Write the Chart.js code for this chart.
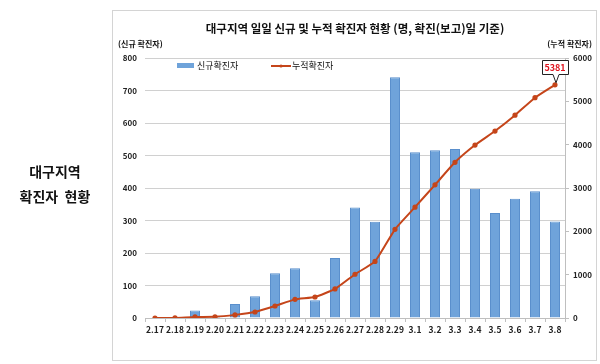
<!DOCTYPE html>
<html><head><meta charset="utf-8">
<script src="https://cdn.jsdelivr.net/npm/chart.js@4.4.1/dist/chart.umd.min.js"></script>
<style>
html,body{margin:0;padding:0;background:#fff;}
#wrap{position:relative;width:600px;height:364px;}
canvas{position:absolute;left:0;top:0;}
.side{position:absolute;left:0;width:110px;text-align:center;font-family:"Noto Sans CJK KR";font-weight:bold;font-size:14px;color:#111;}
</style></head>
<body><div id="wrap">
<canvas id="c" width="600" height="364"></canvas>
<div class="side" style="top:161px;">대구지역</div>
<div class="side" style="top:186px;">확진자&nbsp;&nbsp;현황</div>
</div>
<script>
const categories = ['2.17','2.18','2.19','2.20','2.21','2.22','2.23','2.24','2.25','2.26','2.27','2.28','2.29','3.1','3.2','3.3','3.4','3.5','3.6','3.7','3.8'];
const newCases = [0,1,23,5,43,67,138,153,55,185,340,296,741,510,516,520,398,323,367,390,297];
const cumulative = [0,1,24,29,72,139,277,430,485,670,1010,1306,2047,2557,3073,3593,3991,4314,4681,5084,5381];
const leftTicks = [0,100,200,300,400,500,600,700,800];
const rightTicks = [0,1000,2000,3000,4000,5000,6000];
const titleText = '대구지역 일일 신규 및 누적 확진자 현황 (명, 확진(보고)일 기준)';
const leftUnit = '(신규 확진자)';
const rightUnit = '(누적 확진자)';
const barLabel = '신규확진자';
const lineLabel = '누적확진자';
const lastLabel = '5381';

const FONT = '"Noto Sans CJK KR"';
const lineColor = '#C5451A';
const barColor = '#6FA3DA';

const deco = {
  id:'deco',
  afterDraw(chart){
    const ctx = chart.ctx;
    ctx.save();
    ctx.strokeStyle = '#D4D4D4'; ctx.lineWidth = 1;
    ctx.strokeRect(112.5,10.5,484,350);
    ctx.fillStyle = '#111';
    ctx.font = 'bold 11.5px '+FONT;
    ctx.textAlign='center'; ctx.textBaseline='middle';
    ctx.fillText(titleText, 355, 29);
    ctx.font = 'bold 8px '+FONT;
    ctx.textAlign='left';
    ctx.fillText(leftUnit, 118, 44);
    ctx.textAlign='right';
    ctx.fillText(rightUnit, 592, 44);
    ctx.font = '9px '+FONT;
    ctx.textAlign='left';
    ctx.fillStyle = barColor;
    ctx.fillRect(177,63,17,5);
    ctx.fillStyle='#111';
    ctx.fillText(barLabel, 197, 66);
    ctx.strokeStyle = lineColor; ctx.lineWidth=2;
    ctx.beginPath(); ctx.moveTo(271,66); ctx.lineTo(291,66); ctx.stroke();
    ctx.fillStyle=lineColor;
    ctx.beginPath(); ctx.arc(281,66,1.6,0,Math.PI*2); ctx.fill();
    ctx.fillStyle='#111';
    ctx.fillText(lineLabel, 292, 66);
    const meta = chart.getDatasetMeta(1);
    const p = meta.data[meta.data.length-1];
    const bx = Math.round(p.x-13), by = Math.round(p.y-25), bw = 26, bh = 14;
    ctx.fillStyle='#fff'; ctx.strokeStyle='#222'; ctx.lineWidth=1;
    ctx.beginPath();
    ctx.moveTo(bx+0.5,by+0.5); ctx.lineTo(bx+bw+0.5,by+0.5); ctx.lineTo(bx+bw+0.5,by+bh+0.5);
    ctx.lineTo(p.x+4,by+bh+0.5); ctx.lineTo(p.x+1,p.y-2); ctx.lineTo(p.x-2,by+bh+0.5);
    ctx.lineTo(bx+0.5,by+bh+0.5); ctx.closePath();
    ctx.fill(); ctx.stroke();
    ctx.fillStyle='#E0141E'; ctx.font='bold 9px '+FONT; ctx.textAlign='center';
    ctx.fillText(lastLabel, bx+bw/2, by+bh/2+0.5);
    ctx.restore();
  }
};

new Chart(document.getElementById('c'), {
  data:{
    labels:categories,
    datasets:[
      {type:'bar', label:barLabel, data:newCases, yAxisID:'y', backgroundColor:barColor, borderColor:'#5A8FCC', borderWidth:1, barPercentage:0.5, categoryPercentage:1, order:2},
      {type:'line', label:lineLabel, data:cumulative, yAxisID:'y2', borderColor:lineColor, backgroundColor:lineColor, borderWidth:2, pointRadius:1.6, pointStyle:'circle', tension:0.15, order:1}
    ]
  },
  options:{
    responsive:false, animation:false,
    layout:{padding:{left:110,right:0,top:58,bottom:26}},
    plugins:{legend:{display:false}, tooltip:{enabled:false}},
    scales:{
      x:{
        grid:{display:true, drawOnChartArea:false, drawTicks:true, tickLength:4, color:'#BFBFBF', offset:true},
        border:{display:true,color:'#BFBFBF'},
        ticks:{font:{family:FONT,size:8.5,weight:'bold'}, color:'#222', maxRotation:0, autoSkip:false, padding:3},
        afterFit(s){s.height=20;}
      },
      y:{
        position:'left', min:0, max:800,
        afterBuildTicks(s){s.ticks = leftTicks.map(v=>({value:v}));},
        grid:{color:'#D0D0D0', drawTicks:false},
        border:{display:false},
        ticks:{font:{family:FONT,size:8,weight:'bold'}, color:'#222', padding:8, callback:v=>String(v)},
        afterFit(s){s.width=35;}
      },
      y2:{
        position:'right', min:0, max:6000,
        afterBuildTicks(s){s.ticks = rightTicks.map(v=>({value:v}));},
        grid:{drawOnChartArea:false, drawTicks:true, tickLength:4, color:'#BFBFBF'},
        border:{display:true,color:'#BFBFBF'},
        ticks:{font:{family:FONT,size:8,weight:'bold'}, color:'#222', padding:4, callback:v=>String(v)},
        afterFit(s){s.width=35;}
      }
    }
  },
  plugins:[deco]
});
</script>
</body></html>
